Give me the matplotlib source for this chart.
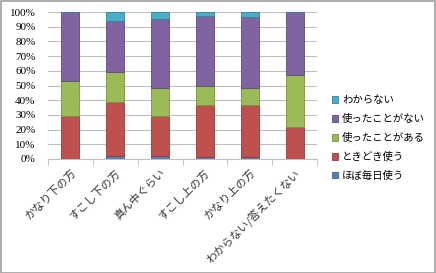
import matplotlib
matplotlib.use("Agg")
import matplotlib.pyplot as plt
from matplotlib.patches import Rectangle
from matplotlib.ticker import FixedLocator, PercentFormatter

categories = ["かなり下の方", "すこし下の方", "真ん中ぐらい", "すこし上の方", "かなり上の方", "わからない/答えたくない"]
series_names = ["ほぼ毎日使う", "ときどき使う", "使ったことがある", "使ったことがない", "わからない"]
daily = [0.0, 2.0, 2.0, 1.6, 1.5, 0.0]
sometimes = [29.5, 36.8, 27.3, 34.9, 35.0, 21.6]
used = [23.3, 20.6, 19.0, 13.2, 12.0, 35.5]
never = [47.2, 34.5, 47.1, 47.6, 47.9, 42.9]
unknown = [0.0, 6.1, 4.6, 2.7, 3.6, 0.0]
yticks = [0, 10, 20, 30, 40, 50, 60, 70, 80, 90, 100]

colors = ["#4F81BD", "#C0504D", "#9BBB59", "#8064A2", "#4BACC6"]
edges = ["#3A6496", "#943C39", "#76923C", "#5F497A", "#31859B"]

plt.rcParams['font.family'] = ['Noto Sans CJK JP', 'DejaVu Sans']

fig = plt.figure(figsize=(4.36, 2.73), dpi=100)
W, H = 436, 273
ax = fig.add_axes([48 / W, 1 - 159 / H, (317 - 48) / W, (159 - 12) / H])

x = list(range(len(categories)))
bottom = [0.0] * len(categories)
for vals, c, ec, name in zip([daily, sometimes, used, never, unknown], colors, edges, series_names):
    ax.bar(x, vals, bottom=bottom, width=0.40, color=c, edgecolor=ec, linewidth=0.6, label=name, zorder=3)
    bottom = [b + v for b, v in zip(bottom, vals)]

ax.set_xlim(-0.5, len(categories) - 0.5)
ax.set_ylim(0, 100)
ax.set_yticks(yticks)
ax.yaxis.set_major_formatter(PercentFormatter(decimals=0))
ax.grid(axis='y', color='#BFBFBF', linewidth=0.8, zorder=0)
for s in ['top', 'right', 'left']:
    ax.spines[s].set_visible(False)
ax.spines['bottom'].set_color('#BFBFBF')
ax.tick_params(axis='y', length=0, pad=9)
for lab in ax.get_yticklabels():
    lab.set_family(['Liberation Serif', 'DejaVu Serif'])
    lab.set_fontsize(8)
ax.set_xticks(x)
ax.set_xticklabels(categories, rotation=45, ha='right', rotation_mode='anchor', fontsize=8, color='#333333')
ax.tick_params(axis='x', length=0, pad=6)
ax.xaxis.set_minor_locator(FixedLocator([i + 0.5 for i in range(-1, len(categories))]))
ax.tick_params(axis='x', which='minor', length=4, color='#BFBFBF')

handles, labels = ax.get_legend_handles_labels()
leg = fig.legend(handles[::-1], labels[::-1], loc='upper left', bbox_to_anchor=(328 / W, 1 - 91 / H),
                 frameon=False, fontsize=7.5, handlelength=0.6, handleheight=0.6,
                 handletextpad=0.35, labelspacing=0.85, borderaxespad=0)

fig.patches.append(Rectangle((0.5 / W, 0.5 / H), 1 - 1.5 / W, 1 - 1.5 / H, transform=fig.transFigure,
                             fill=False, edgecolor='#A0A0A0', linewidth=1.2))
fig.savefig("out.png", dpi=100)
